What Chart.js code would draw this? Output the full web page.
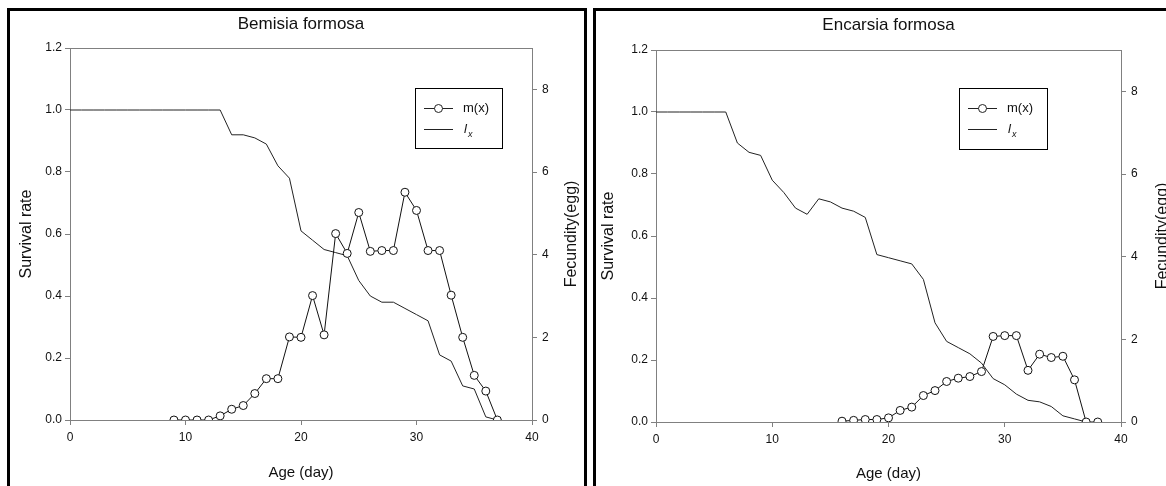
<!DOCTYPE html>
<html>
<head>
<meta charset="utf-8">
<script src="https://cdn.jsdelivr.net/npm/chart.js@4.4.0/dist/chart.umd.min.js"></script>
<style>
body { margin: 0; background: #fff; width: 1166px; height: 486px; overflow: hidden; position: relative; }
.panel { position: absolute; top: 8px; height: 600px; border: 3px solid #000; box-sizing: border-box; }
#p1 { left: 7px; width: 580px; }
#p2 { left: 593px; width: 700px; }
canvas { position: absolute; top: 10px; }
#c1 { left: 10px; }
#c2 { left: 596px; }
</style>
</head>
<body>
<div class="panel" id="p1"></div>
<div class="panel" id="p2"></div>
<canvas id="c1" width="575" height="476"></canvas>
<canvas id="c2" width="570" height="476"></canvas>
<script>
// tick labels
const xTicks = [0, 10, 20, 30, 40];
const survivalTicks = [0, 0.2, 0.4, 0.6, 0.8, 1.0, 1.2];
const fecundityTicks = [0, 2, 4, 6, 8];

// Bemisia formosa
const bemisiaLxAge = [0,1,2,3,4,5,6,7,8,9,10,11,12,13,14,15,16,17,18,19,20,21,22,23,24,25,26,27,28,29,30,31,32,33,34,35,36,37];
const bemisiaLx = [1,1,1,1,1,1,1,1,1,1,1,1,1,1,0.92,0.92,0.91,0.89,0.82,0.78,0.61,0.58,0.55,0.54,0.53,0.45,0.40,0.38,0.38,0.36,0.34,0.32,0.21,0.19,0.11,0.10,0.01,0];
const bemisiaMxAge = [9,10,11,12,13,14,15,16,17,18,19,20,21,22,23,24,25,26,27,28,29,30,31,32,33,34,35,36,37];
const bemisiaMx = [0,0,0,0,0.1,0.26,0.35,0.64,1.0,1.0,2.01,2.0,3.01,2.06,4.51,4.03,5.02,4.08,4.1,4.1,5.51,5.07,4.1,4.1,3.02,2.0,1.08,0.7,0];

// Encarsia formosa
const encarsiaLxAge = [0,1,2,3,4,5,6,7,8,9,10,11,12,13,14,15,16,17,18,19,20,21,22,23,24,25,26,27,28,29,30,31,32,33,34,35,36,37];
const encarsiaLx = [1,1,1,1,1,1,1,0.90,0.87,0.86,0.78,0.74,0.69,0.67,0.72,0.71,0.69,0.68,0.66,0.54,0.53,0.52,0.51,0.46,0.32,0.26,0.24,0.22,0.19,0.14,0.12,0.09,0.07,0.065,0.05,0.02,0.01,0];
const encarsiaMxAge = [16,17,18,19,20,21,22,23,24,25,26,27,28,29,30,31,32,33,34,35,36,37,38];
const encarsiaMx = [0.02,0.04,0.06,0.06,0.10,0.28,0.36,0.64,0.76,0.98,1.06,1.1,1.22,2.07,2.09,2.09,1.25,1.64,1.56,1.59,1.02,0,0];

const FONT = '"Liberation Sans", Arial, sans-serif';
const AXIS = '#808080';
const INK = '#111';

// frame, title, right axis title and legend box
const decor = {
    id: 'decor',
    beforeDatasetsDraw(chart, args, o) {
        const a = chart.chartArea, ctx = chart.ctx;
        ctx.save();
        ctx.strokeStyle = AXIS;
        ctx.lineWidth = 1;
        ctx.beginPath();
        ctx.moveTo(a.left, a.top + 0.5);
        ctx.lineTo(a.right, a.top + 0.5);
        ctx.stroke();
        ctx.restore();
    },
    afterDraw(chart, args, o) {
        const a = chart.chartArea, ctx = chart.ctx;
        ctx.save();
        ctx.fillStyle = INK;
        ctx.textAlign = 'center';
        ctx.textBaseline = 'middle';
        ctx.font = '17px ' + FONT;
        ctx.fillText(o.title, (a.left + a.right) / 2, o.titleY);

        ctx.save();
        ctx.translate(o.rightTitleX, (a.top + a.bottom) / 2);
        ctx.rotate(-Math.PI / 2);
        ctx.font = '16px ' + FONT;
        ctx.fillText('Fecundity(egg)', 0, 0);
        ctx.restore();

        const L = o.legend;
        ctx.strokeStyle = '#000';
        ctx.lineWidth = 1;
        ctx.strokeRect(L.x + 0.5, L.y + 0.5, L.w, L.h);
        const ds = chart.data.datasets;
        const y1 = L.y + 20, y2 = L.y + 41;
        ctx.strokeStyle = '#222';
        ctx.beginPath();
        ctx.moveTo(L.x + 9, y1 + 0.5); ctx.lineTo(L.x + 38, y1 + 0.5);
        ctx.moveTo(L.x + 9, y2 + 0.5); ctx.lineTo(L.x + 38, y2 + 0.5);
        ctx.stroke();
        ctx.beginPath();
        ctx.arc(L.x + 23.5, y1 + 0.5, 4, 0, Math.PI * 2);
        ctx.fillStyle = '#fff';
        ctx.fill();
        ctx.stroke();
        ctx.fillStyle = INK;
        ctx.textAlign = 'left';
        ctx.font = '13px ' + FONT;
        ctx.fillText(ds[0].label, L.x + 48, y1);
        ctx.font = 'italic 13px ' + FONT;
        ctx.fillText(ds[1].label[0], L.x + 49, y2);
        ctx.font = 'italic 9px ' + FONT;
        ctx.fillText(ds[1].label[1], L.x + 53, y2 + 5);
        ctx.restore();
    }
};

function pts(ages, vals) {
    return ages.map((a, i) => ({ x: a, y: vals[i] }));
}

function makeChart(id, lxAge, lx, mxAge, mx, o) {
    return new Chart(document.getElementById(id), {
        type: 'line',
        data: {
            datasets: [
                {
                    label: 'm(x)',
                    data: pts(mxAge, mx),
                    yAxisID: 'yF',
                    borderColor: '#111',
                    borderWidth: 1,
                    pointRadius: 4,
                    pointBackgroundColor: '#fff',
                    pointBorderColor: '#111',
                    pointBorderWidth: 1,
                    tension: 0,
                    order: 0
                },
                {
                    label: 'lx',
                    data: pts(lxAge, lx),
                    yAxisID: 'yS',
                    borderColor: '#222',
                    borderWidth: 1,
                    pointRadius: 0,
                    tension: 0,
                    order: 1
                }
            ]
        },
        options: {
            responsive: false,
            animation: false,
            devicePixelRatio: 1,
            layout: { padding: { top: o.top, left: 0, right: 0, bottom: 0 } },
            plugins: {
                legend: { display: false },
                tooltip: { enabled: false },
                decor: o
            },
            scales: {
                x: {
                    type: 'linear', min: 0, max: 40,
                    afterBuildTicks: s => { s.ticks = xTicks.map(v => ({ value: v })); },
                    afterFit: s => { s.height = o.bottom; },
                    grid: { drawOnChartArea: false, tickLength: 5, color: AXIS },
                    border: { color: AXIS },
                    ticks: { color: INK, font: { family: FONT, size: 12 }, padding: 5, maxRotation: 0 },
                    title: { display: true, text: 'Age (day)', color: INK, font: { family: FONT, size: 15 }, padding: { top: 0, bottom: o.xTitlePad } }
                },
                yS: {
                    type: 'linear', position: 'left', min: 0, max: 1.2,
                    afterBuildTicks: s => { s.ticks = survivalTicks.map(v => ({ value: v })); },
                    afterFit: s => { s.width = o.leftW; },
                    grid: { drawOnChartArea: false, tickLength: 5, color: AXIS },
                    border: { color: AXIS },
                    ticks: { color: INK, font: { family: FONT, size: 12 }, padding: 3, callback: v => v.toFixed(1) },
                    title: { display: true, text: 'Survival rate', color: INK, font: { family: FONT, size: 16 }, padding: { top: o.yTitlePad, bottom: 0 } }
                },
                yF: {
                    type: 'linear', position: 'right', min: 0, max: 9,
                    afterBuildTicks: s => { s.ticks = fecundityTicks.map(v => ({ value: v })); },
                    afterFit: s => { s.width = o.rightW; },
                    grid: { drawOnChartArea: false, tickLength: 5, color: AXIS },
                    border: { color: AXIS },
                    ticks: { color: INK, font: { family: FONT, size: 12 }, padding: 5 }
                }
            }
        },
        plugins: [decor]
    });
}

makeChart('c1', bemisiaLxAge, bemisiaLx, bemisiaMxAge, bemisiaMx, {
    title: 'Bemisia formosa', titleY: 14, rightTitleX: 562,
    top: 38, bottom: 66, leftW: 60, rightW: 53, xTitlePad: 4, yTitlePad: 7,
    legend: { x: 405, y: 78, w: 87, h: 60 }
});

makeChart('c2', encarsiaLxAge, encarsiaLx, encarsiaMxAge, encarsiaMx, {
    title: 'Encarsia formosa', titleY: 15, rightTitleX: 567,
    top: 40, bottom: 64, leftW: 60, rightW: 45, xTitlePad: 3, yTitlePad: 3,
    legend: { x: 363, y: 78, w: 88, h: 61 }
});
</script>
</body>
</html>
